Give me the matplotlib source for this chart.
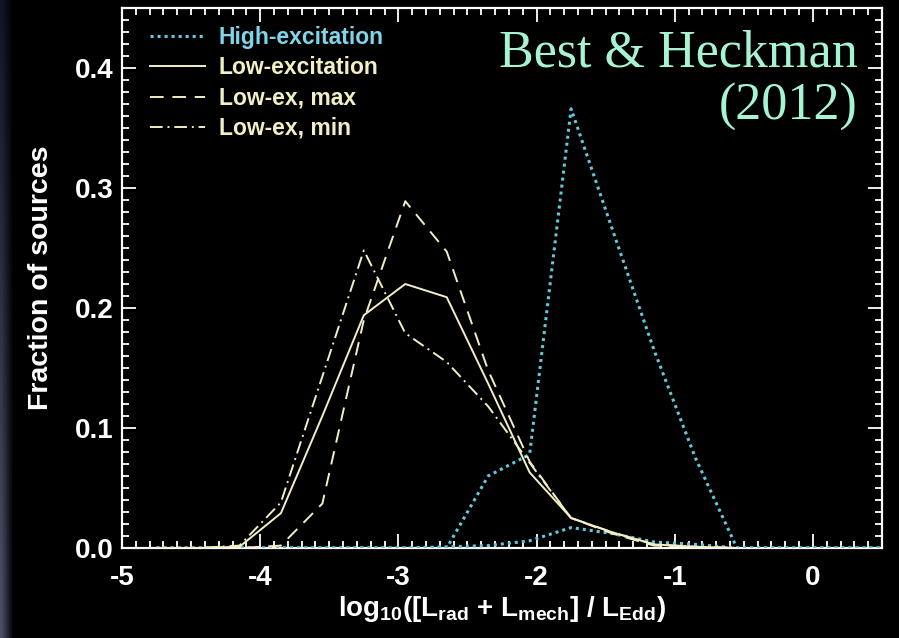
import numpy as np
import matplotlib
matplotlib.use("Agg")
import matplotlib.pyplot as plt
from matplotlib.ticker import MultipleLocator

# ---------------- data ----------------
le_bins = [-4.75, -4.45, -4.15, -3.85, -3.55, -3.25, -2.95, -2.65, -2.35,
           -2.05, -1.75, -1.45, -1.15, -0.85, -0.55]
low_ex = [0.0, 0.0, 0.001, 0.029, 0.110, 0.194, 0.220, 0.209, 0.137,
          0.063, 0.025, 0.013, 0.003, 0.001, 0.0]
low_ex_max = [0.0, 0.0, 0.0, 0.002, 0.037, 0.190, 0.289, 0.247, 0.148,
              0.072, 0.025, 0.012, 0.002, 0.001, 0.0]
low_ex_min = [0.0, 0.0, 0.002, 0.038, 0.143, 0.248, 0.179, 0.155, 0.118,
              0.071, 0.025, 0.013, 0.003, 0.001, 0.0]

he_bins = [-4.75, -4.45, -4.15, -3.85, -3.55, -3.25, -2.95, -2.65, -2.35,
           -2.05, -1.75, -1.45, -1.15, -0.85, -0.55, -0.25, 0.05, 0.35, 0.65]
high_ex = [0.0, 0.0, 0.0, 0.0, 0.0, 0.0, 0.0, 0.0, 0.060,
           0.078, 0.366, 0.265, 0.165, 0.075, 0.0, 0.0, 0.0, 0.0, 0.0]
high_ex_low = [0.0, 0.0, 0.0, 0.0, 0.0, 0.0, 0.0, 0.001, 0.002,
               0.006, 0.017, 0.012, 0.005, 0.003, 0.0, 0.0, 0.0, 0.0, 0.0]

x_ticks = [-5, -4, -3, -2, -1, 0]
y_ticks = [0.0, 0.1, 0.2, 0.3, 0.4]
legend_labels = ["High-excitation", "Low-excitation", "Low-ex, max", "Low-ex, min"]

# ---------------- style ----------------
CYAN = "#62c8dc"
CYAN_TXT = "#7fd6ea"
CREAM = "#f3eec4"
MINT = "#a6f4d2"

plt.rcParams["font.family"] = ["Liberation Sans", "DejaVu Sans"]
plt.rcParams["font.weight"] = "bold"
plt.rcParams["mathtext.fontset"] = "custom"
plt.rcParams["mathtext.rm"] = "Liberation Sans:bold"
plt.rcParams["mathtext.it"] = "Liberation Sans:bold"
plt.rcParams["mathtext.bf"] = "Liberation Sans:bold"

fig = plt.figure(figsize=(8.99, 6.38), dpi=100, facecolor="black")

# slide background strip on the left
bg = fig.add_axes([0, 0, 1, 1], zorder=-10)
bg.axis("off")
ny, nx = 200, 300
yy = np.linspace(0, 1, ny)[:, None]
xx = np.linspace(0, 1, nx)[None, :]
fade = np.clip(1 - xx / 0.012, 0, 1) ** 0.8
top = np.array([0.07, 0.08, 0.15])
bot = np.array([0.30, 0.31, 0.40])
col = top[None, None, :] * (1 - yy[..., None]) + bot[None, None, :] * yy[..., None]
img = col * fade[..., None]
bg.imshow(img, aspect="auto", extent=[0, 1, 0, 1], origin="upper")
bg.set_xlim(0, 1)
bg.set_ylim(0, 1)

ax = fig.add_axes([122 / 899, 1 - 548 / 638, 760 / 899, 540 / 638])
ax.set_facecolor("black")

dot_style = (0, (1.0, 1.3))
l_he, = ax.plot(he_bins, high_ex, color=CYAN, lw=2.2,
                linestyle=dot_style, dash_capstyle="butt", zorder=3)
ax.plot(he_bins, high_ex_low, color=CYAN, lw=2.2,
        linestyle=dot_style, dash_capstyle="butt", zorder=3)
l_le, = ax.plot(le_bins, low_ex, color=CREAM, lw=1.4, zorder=3)
l_max, = ax.plot(le_bins, low_ex_max, color=CREAM, lw=1.4,
                 linestyle=(0, (7, 4.5)), zorder=3)
l_min, = ax.plot(le_bins, low_ex_min, color=CREAM, lw=1.4,
                 linestyle=(0, (6.5, 2.5, 1, 2.5)), zorder=3)

ax.set_xlim(-5, 0.5)
ax.set_ylim(0, 0.45)
ax.set_xticks(x_ticks)
ax.set_xticklabels([str(v) for v in x_ticks])
ax.set_yticks(y_ticks)
ax.set_yticklabels([f"{v:.1f}" for v in y_ticks])
ax.xaxis.set_minor_locator(MultipleLocator(0.1))
ax.yaxis.set_minor_locator(MultipleLocator(0.01))

for s in ax.spines.values():
    s.set_color("white")
    s.set_linewidth(1.6)
    s.set_zorder(2.5)

ax.tick_params(which="both", direction="in", top=True, right=True,
               colors="white", width=1.3)
ax.tick_params(which="major", length=10)
ax.tick_params(which="minor", length=5)
ax.tick_params(axis="x", which="major", pad=12, labelsize=20)
ax.tick_params(axis="y", which="major", pad=6, labelsize=20)
for t in ax.get_xticklabels() + ax.get_yticklabels():
    t.set_fontweight("bold")
    t.set_color("white")

ax.set_ylabel("Fraction of sources", fontsize=20.5, fontweight="bold", color="white")
ax.yaxis.set_label_coords(-0.09, 0.5)
ax.set_xlabel(r"log$_{\mathrm{10}}$([L$_{\mathrm{rad}}$ + L$_{\mathrm{mech}}$] / L$_{\mathrm{Edd}}$)",
              fontsize=20, fontweight="bold", color="white")
ax.xaxis.set_label_coords(0.5, -0.085)

leg = ax.legend([l_he, l_le, l_max, l_min], legend_labels, loc="upper left",
                bbox_to_anchor=(0.037, 0.966), frameon=False,
                handlelength=2.4, handletextpad=0.6, labelspacing=0.31,
                borderpad=0.0, borderaxespad=0.0,
                prop={"family": "Liberation Sans", "weight": "bold", "size": 16.5})
for txt, c in zip(leg.get_texts(), [CYAN_TXT, CREAM, CREAM, CREAM]):
    txt.set_color(c)

ax.text(0.968, 0.96, "Best & Heckman\n(2012)", transform=ax.transAxes,
        ha="right", va="top", multialignment="right",
        family="Liberation Serif", fontweight="normal", fontsize=37.5,
        color=MINT, linespacing=1.15)

fig.savefig("out.png", dpi=100, facecolor="black")
